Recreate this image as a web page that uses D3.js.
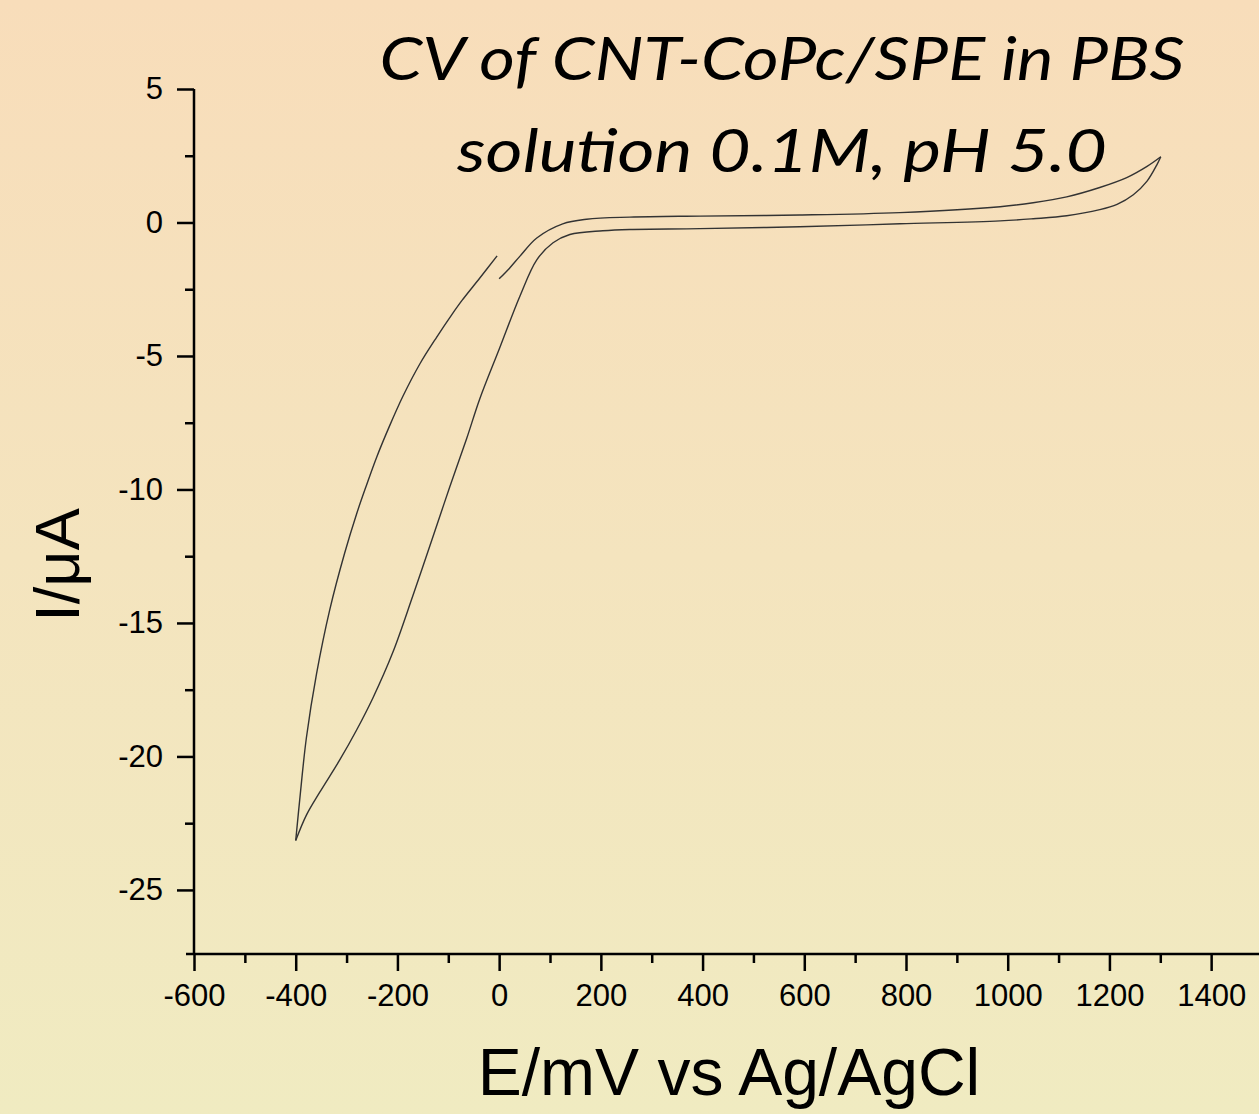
<!DOCTYPE html>
<html>
<head>
<meta charset="utf-8">
<script src="https://cdn.jsdelivr.net/npm/d3@7"></script>
<style>
  body { margin: 0; overflow: hidden; }
</style>
</head>
<body>
<div class="chart"></div>
<script>
// CV scan data (E in mV, I in uA)
// scan 1: 0 -> 1300 mV (upper branch)
const fwdE = [0, 20, 41, 74, 125, 172, 257, 395, 591, 788, 985, 1050, 1116, 1181, 1234, 1274, 1301];
const fwdI = [-2.11, -1.72, -1.26, -0.58, -0.05, 0.12, 0.2, 0.24, 0.28, 0.37, 0.59, 0.74, 0.96, 1.31, 1.68, 2.1, 2.46];
// scan 2: 1300 -> -400 mV
const revE = [1301, 1293, 1274, 1247, 1215, 1181, 1116, 1050, 985, 788, 591, 395, 257, 204, 139, 106, 74, 41, 1, -38, -64, -97, -128, -170, -209, -248, -280, -314, -353, -379, -400];
const revI = [2.46, 2.15, 1.55, 1.04, 0.68, 0.48, 0.25, 0.14, 0.06, -0.05, -0.16, -0.23, -0.26, -0.31, -0.45, -0.76, -1.4, -2.75, -4.7, -6.6, -8.1, -9.9, -11.65, -14.0, -16.1, -17.8, -19.0, -20.15, -21.35, -22.2, -23.15];
// scan 3: -400 -> 0 mV
const retE = [-400, -392, -379, -359, -333, -304, -280, -261, -241, -215, -189, -156, -123, -93, -73, -38, -4];
const retI = [-23.15, -21.6, -19.3, -16.9, -14.5, -12.4, -10.9, -9.85, -8.8, -7.6, -6.5, -5.3, -4.3, -3.45, -2.92, -2.08, -1.25];

const xTicks = [-600, -400, -200, 0, 200, 400, 600, 800, 1000, 1200, 1400];
const xMinor = [-500, -300, -100, 100, 300, 500, 700, 900, 1100, 1300, 1500];
const yTicks = [5, 0, -5, -10, -15, -20, -25];
const yMinor = [2.5, -2.5, -7.5, -12.5, -17.5, -22.5];

const titleLines = ["CV of CNT-CoPc/SPE in PBS", "solution 0.1M, pH 5.0"];

const W = 1259, H = 1114;

const svg = d3.select("div.chart")
    .append("svg")
    .attr("width", W)
    .attr("height", H);

// background gradient
const grad = svg.append("defs").append("linearGradient")
    .attr("id", "bg")
    .attr("x1", 0).attr("y1", 0).attr("x2", 0).attr("y2", 1);
grad.append("stop").attr("offset", "0%").attr("stop-color", "#F8DDBA");
grad.append("stop").attr("offset", "50%").attr("stop-color", "#F4E4BE");
grad.append("stop").attr("offset", "100%").attr("stop-color", "#F0EBC1");
svg.append("rect").attr("width", W).attr("height", H).attr("fill", "url(#bg)");

// scales
const xScale = d3.scaleLinear().domain([-600, 1500]).range([194, 1262]);
const yScale = d3.scaleLinear().domain([-27.4, 5]).range([954, 89]);

const axisFont = "'Liberation Sans', Arial, sans-serif";
const plain = d => String(d);

// x axis
const xAxis = svg.append("g")
    .attr("transform", "translate(0," + yScale(-27.4) + ")")
    .call(d3.axisBottom(xScale).tickValues(xTicks).tickFormat(plain).tickSize(17).tickSizeOuter(0).tickPadding(13));
xAxis.append("g")
    .call(d3.axisBottom(xScale).tickValues(xMinor).tickSize(9).tickSizeOuter(0).tickFormat(""));
xAxis.selectAll(".domain").remove();
xAxis.append("line")
    .attr("x1", 186).attr("x2", W)
    .attr("stroke", "#000").attr("stroke-width", 2.5);

// y axis
const yAxis = svg.append("g")
    .attr("transform", "translate(" + xScale(-600) + ",0)")
    .call(d3.axisLeft(yScale).tickValues(yTicks).tickFormat(plain).tickSize(17).tickSizeOuter(0).tickPadding(14));
yAxis.append("g")
    .call(d3.axisLeft(yScale).tickValues(yMinor).tickSize(9).tickSizeOuter(0).tickFormat(""));
yAxis.selectAll(".domain").remove();
yAxis.append("line")
    .attr("y1", yScale(5)).attr("y2", yScale(-27.4))
    .attr("stroke", "#000").attr("stroke-width", 2.5);

svg.selectAll(".tick line").attr("stroke", "#000").attr("stroke-width", 2.5);
svg.selectAll(".tick text")
    .attr("fill", "#000")
    .style("font-family", axisFont)
    .style("font-size", "31px");

// axis titles
svg.append("text")
    .attr("x", 729)
    .attr("y", 1095)
    .attr("text-anchor", "middle")
    .style("font-family", axisFont)
    .style("font-size", "66px")
    .text("E/mV vs Ag/AgCl");

svg.append("text")
    .attr("transform", "translate(79,565) rotate(-90)")
    .attr("text-anchor", "middle")
    .style("font-family", axisFont)
    .style("font-size", "63px")
    .text("I/\u03bcA");

// title
const titleFont = "Lato, 'Open Sans', sans-serif";
const titleY = [80, 172];
const titleW = [805, 650];
titleLines.forEach((t, i) => {
    svg.append("text")
        .attr("x", 782)
        .attr("y", titleY[i])
        .attr("text-anchor", "middle")
        .attr("textLength", titleW[i])
        .attr("lengthAdjust", "spacingAndGlyphs")
        .style("font-family", titleFont)
        .style("font-style", "italic")
        .style("font-size", "61px")
        .text(t);
});

// CV curve
const line = d3.line()
    .x(d => xScale(d[0]))
    .y(d => yScale(d[1]))
    .curve(d3.curveCatmullRom.alpha(0.5));

const scans = [
    d3.zip(fwdE, fwdI),
    d3.zip(revE, revI),
    d3.zip(retE, retI)
];

svg.selectAll("path.scan")
    .data(scans)
    .enter()
    .append("path")
    .attr("class", "scan")
    .attr("d", line)
    .attr("fill", "none")
    .attr("stroke", "#333")
    .attr("stroke-width", 1.4);
</script>
</body>
</html>
